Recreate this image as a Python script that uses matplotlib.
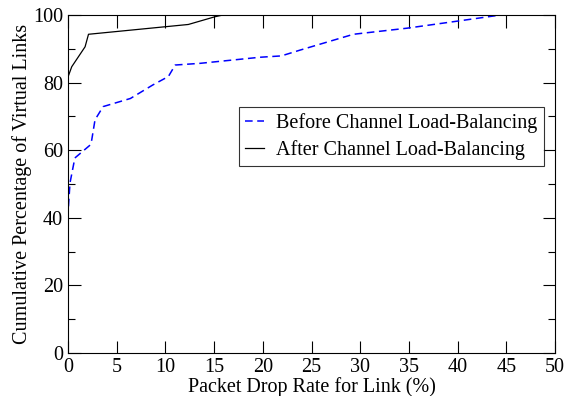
import matplotlib.pyplot as plt
from matplotlib.ticker import MultipleLocator

plt.rcParams['font.family'] = ['Liberation Serif', 'DejaVu Serif']

# packet drop rate (%) vs cumulative percentage of virtual links
before_x = [0.0, 0.0, 0.2, 0.7, 2.26, 2.43, 2.77, 3.6, 6.4, 8.7, 10.3, 11.0, 13.55,
            19.7, 21.9, 23.8, 29.3, 34.8, 40.0, 44.4]
before_y = [0.0, 41.4, 50.3, 57.7, 61.5, 63.0, 69.0, 72.9, 75.3, 79.3, 81.8, 85.2, 85.7,
            87.5, 87.9, 89.6, 94.3, 96.1, 98.2, 100.0]

after_x = [0.0, 0.38, 1.75, 2.1, 12.35, 15.1, 15.9, 50.0]
after_y = [81.7, 84.7, 90.6, 94.3, 97.2, 99.5, 100.0, 100.0]

fig = plt.figure(figsize=(5.67, 3.96), dpi=100)
ax = fig.add_axes([0.12, 0.1086, 0.859, 0.8535])

ax.plot(before_x, before_y, color='blue', linestyle='--', dashes=(5, 3), linewidth=1.1,
        label='Before Channel Load-Balancing')
ax.plot(after_x, after_y, color='black', linewidth=0.9,
        label='After Channel Load-Balancing')

ax.set_xlim(0, 50)
ax.set_ylim(0, 100)
ax.xaxis.set_major_locator(MultipleLocator(5))
ax.yaxis.set_major_locator(MultipleLocator(20))
ax.yaxis.set_minor_locator(MultipleLocator(10))
ax.tick_params(which='both', direction='in', top=True, right=True, labelsize=14.5)
ax.tick_params(which='major', length=9, width=0.8)
ax.tick_params(which='minor', length=5, width=0.8)
ax.tick_params(axis='x', pad=3.5)
ax.tick_params(axis='y', pad=3.5)

ax.set_xlabel('Packet Drop Rate for Link (%)', fontsize=14.5, labelpad=0)
ax.set_ylabel('Cumulative Percentage of Virtual Links', fontsize=14.5, labelpad=1)

leg = ax.legend(loc='upper left', bbox_to_anchor=(0.351, 0.728), borderaxespad=0,
                fontsize=14.5, frameon=True, fancybox=False, handlelength=0.95,
                borderpad=0.3, labelspacing=0.35, handletextpad=0.6)
leg.get_frame().set_edgecolor('black')
leg.get_frame().set_linewidth(0.8)

fig.savefig('out.png', dpi=100)
